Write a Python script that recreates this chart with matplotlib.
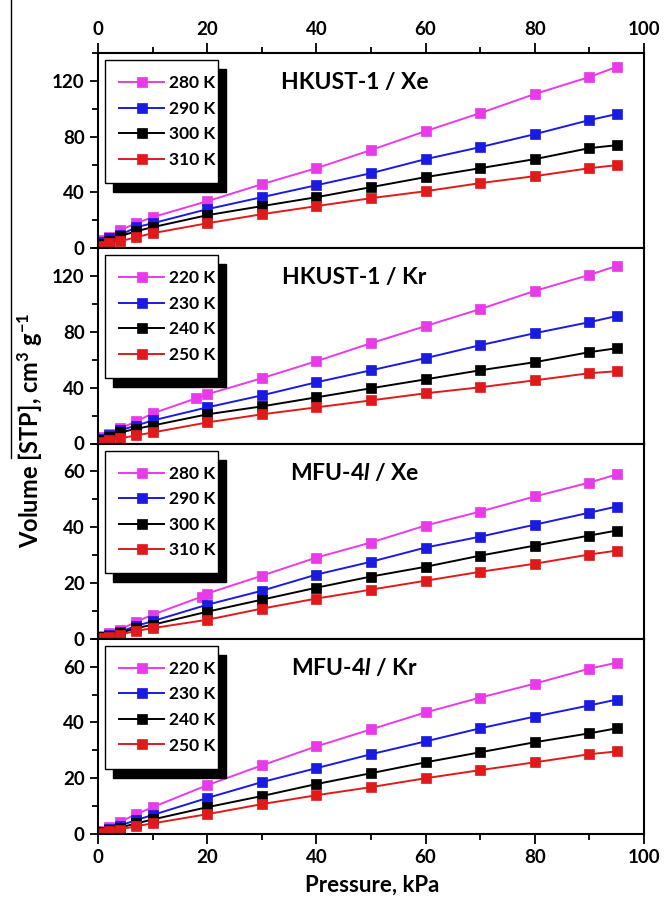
import matplotlib
matplotlib.use('Agg')
import matplotlib.pyplot as plt
from matplotlib.patches import Rectangle
from matplotlib.lines import Line2D
from matplotlib.ticker import MultipleLocator

plt.rcParams['font.family'] = ['Lato', 'DejaVu Sans']
plt.rcParams['font.weight'] = 'bold'
plt.rcParams['mathtext.fontset'] = 'custom'
plt.rcParams['mathtext.rm'] = 'Lato:bold'
plt.rcParams['mathtext.it'] = 'Lato:italic:bold'
plt.rcParams['mathtext.bf'] = 'Lato:bold'

# pression (kPa)
P = [0.4, 2, 4, 7, 10, 20, 30, 40, 50, 60, 70, 80, 90, 95]
P_18 = [0.4, 2, 4, 7, 10, 18, 20, 30, 40, 50, 60, 70, 80, 90, 95]
P_19 = [0.4, 2, 4, 7, 10, 19, 20, 30, 40, 50, 60, 70, 80, 90, 95]

# HKUST-1 / Xe
xe_hk_280 = [5.7, 7.9, 12.9, 17.9, 22.3, 33.7, 45.9, 57.4, 70.4, 84.0, 96.9, 110.6, 122.8, 130.0]
xe_hk_290 = [4.3, 7.0, 9.3, 15.1, 17.9, 28.0, 36.6, 45.2, 53.8, 63.9, 72.5, 81.8, 91.9, 96.2]
xe_hk_300 = [3.0, 5.5, 8.6, 12.2, 15.1, 23.7, 30.2, 36.6, 43.8, 51.0, 57.4, 63.9, 71.8, 73.9]
xe_hk_310 = [1.5, 3.5, 5.0, 7.9, 10.8, 17.9, 24.4, 30.2, 35.9, 40.9, 46.7, 51.7, 57.4, 59.6]

# HKUST-1 / Kr
kr_hk_220 = [5.0, 7.0, 10.8, 15.8, 21.6, 32.4, 35.3, 46.8, 59.0, 71.9, 84.2, 96.4, 109.4, 120.9, 127.3]
kr_hk_230 = [3.5, 6.0, 9.4, 12.9, 16.5, 25.9, 34.5, 43.9, 52.5, 61.2, 70.5, 79.1, 87.0, 91.4]
kr_hk_240 = [2.5, 5.0, 7.9, 10.5, 12.9, 20.9, 26.6, 33.1, 39.6, 46.0, 52.5, 58.3, 65.5, 68.3]
kr_hk_250 = [1.0, 2.2, 3.6, 5.8, 7.9, 15.1, 20.9, 25.9, 30.9, 36.0, 40.3, 45.3, 50.4, 51.8]

# MFU-4l / Xe
xe_mfu_280 = [1.0, 2.0, 3.2, 6.1, 8.6, 15.1, 16.2, 22.6, 29.1, 34.5, 40.6, 45.6, 51.0, 56.0, 58.9]
xe_mfu_290 = [0.6, 1.4, 2.4, 4.6, 6.3, 12.2, 17.2, 23.0, 27.6, 32.7, 36.6, 40.9, 45.2, 47.4]
xe_mfu_300 = [0.5, 1.1, 2.0, 3.8, 5.0, 9.7, 14.0, 18.3, 22.3, 25.8, 29.8, 33.4, 37.0, 38.8]
xe_mfu_310 = [0.3, 0.8, 1.5, 2.8, 3.8, 6.8, 10.8, 14.4, 17.6, 20.8, 24.0, 26.9, 30.2, 31.6]

# MFU-4l / Kr
kr_mfu_220 = [1.2, 2.5, 4.3, 7.1, 9.6, 17.5, 24.6, 31.4, 37.5, 43.6, 48.9, 53.9, 59.3, 61.4]
kr_mfu_230 = [0.8, 1.7, 3.0, 5.0, 6.8, 12.9, 18.6, 23.6, 28.6, 33.2, 37.9, 42.1, 46.1, 48.2]
kr_mfu_240 = [0.6, 1.3, 2.3, 3.8, 5.2, 9.6, 13.6, 17.9, 21.8, 25.7, 29.3, 32.9, 36.1, 37.9]
kr_mfu_250 = [0.4, 0.9, 1.6, 2.8, 3.8, 7.1, 10.7, 13.9, 16.8, 20.0, 22.9, 25.7, 28.6, 29.6]

couleurs = ['#e83ae8', '#1a1ae0', '#000000', '#e01a1a']

panneaux = [
    ('HKUST-1 / Xe', ['280 K', '290 K', '300 K', '310 K'],
     [(P, xe_hk_280), (P, xe_hk_290), (P, xe_hk_300), (P, xe_hk_310)], 140, 40),
    ('HKUST-1 / Kr', ['220 K', '230 K', '240 K', '250 K'],
     [(P_18, kr_hk_220), (P, kr_hk_230), (P, kr_hk_240), (P, kr_hk_250)], 140, 40),
    ('MFU-4$\\mathit{l}$ / Xe', ['280 K', '290 K', '300 K', '310 K'],
     [(P_19, xe_mfu_280), (P, xe_mfu_290), (P, xe_mfu_300), (P, xe_mfu_310)], 70, 20),
    ('MFU-4$\\mathit{l}$ / Kr', ['220 K', '230 K', '240 K', '250 K'],
     [(P, kr_mfu_220), (P, kr_mfu_230), (P, kr_mfu_240), (P, kr_mfu_250)], 70, 20),
]

fig = plt.figure(figsize=(6.66, 9.07), dpi=100)
gauche, largeur = 98/666, 546/666
haut, bas = 1 - 53/907, 1 - 834/907
h = (haut - bas) / 4

for i, (titre, labels, series, ymax, pas) in enumerate(panneaux):
    ax = fig.add_axes([gauche, haut - (i+1)*h, largeur, h])
    for (x, y), c, lab in zip(series, couleurs, labels):
        ax.plot(x, y, '-s', color=c, lw=1.4, ms=7.3, mec=c, mew=0.5, label=lab)
    ax.set_xlim(0, 100)
    ax.set_ylim(0, ymax)
    ax.yaxis.set_major_locator(MultipleLocator(pas))
    ax.yaxis.set_minor_locator(MultipleLocator(pas/2))
    ax.xaxis.set_major_locator(MultipleLocator(20))
    ax.xaxis.set_minor_locator(MultipleLocator(10))
    for s in ax.spines.values():
        s.set_linewidth(1.5)
    ax.tick_params(axis='y', which='major', direction='out', length=6, width=1.3, labelsize=13.5, right=False)
    ax.tick_params(axis='y', which='minor', direction='out', length=4, width=1.3, right=False)
    ax.tick_params(axis='x', which='both', direction='out', width=1.3,
                   bottom=(i == 3), labelbottom=(i == 3), top=(i == 0), labeltop=(i == 0), labelsize=13.5)
    ax.tick_params(axis='x', which='major', length=7)
    ax.tick_params(axis='x', which='minor', length=4)
    for t in ax.get_xticklabels() + ax.get_yticklabels():
        t.set_fontweight('bold')

    ax.text(0.47, 0.85, titre, transform=ax.transAxes, ha='center', va='center',
            fontsize=16.5, fontweight='bold')

    # cadre de légende avec ombre noire
    bx0, bx1, by0, by1 = 0.0128, 0.22, 0.335, 0.964
    ax.add_patch(Rectangle((bx0 + 0.0147, by0 - 0.046), bx1 - bx0, by1 - by0, transform=ax.transAxes,
                           facecolor='black', edgecolor='black', zorder=4.8, clip_on=False))
    ax.add_patch(Rectangle((bx0, by0), bx1 - bx0, by1 - by0, transform=ax.transAxes,
                           facecolor='white', edgecolor='black', lw=1, zorder=4.9, clip_on=False))
    leg = ax.legend(loc='center', bbox_to_anchor=((bx0+bx1)/2 + 0.01, (by0+by1)/2), frameon=False,
                    prop={'size': 12.5, 'weight': 'bold'}, handlelength=2.6, handletextpad=0.25,
                    labelspacing=0.55, markerscale=1.0)
    leg.set_zorder(5)

fig.text(30/666, 1 - 430/907, 'Volume [STP], cm$^{3}$ g$^{-1}$', rotation=90, ha='center', va='center',
         fontsize=17, fontweight='bold')
fig.text(372/666, 1 - 885/907, 'Pressure, kPa', ha='center', va='center', fontsize=16, fontweight='bold')

# trait vertical parasite de l'image d'origine
fig.add_artist(Line2D([11/666, 11/666], [1, 1 - 458/907], transform=fig.transFigure, color='black', lw=1))

plt.savefig('out.png', dpi=100)
